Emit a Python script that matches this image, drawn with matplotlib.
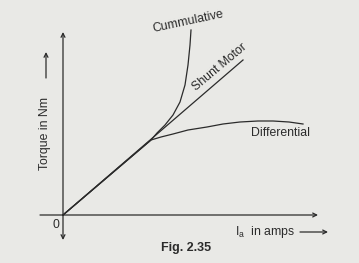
import matplotlib.pyplot as plt

# curve points (origin at the axes crossing, units ~ px)
shunt_x = [0, 180]
shunt_y = [0, 155]

cumul_x = [0, 88, 94, 102, 110, 117, 122, 125, 127, 128]
cumul_y = [0, 75, 82, 90, 100, 113, 130, 150, 170, 185]

diff_x = [0, 88, 98, 110, 125, 144, 160, 177, 195, 210, 226, 240]
diff_y = [0, 75, 78, 81, 85, 88, 91, 93, 94, 94, 93, 91]

labels = ["Cummulative", "Shunt Motor", "Differential"]

ink = "#2b2b2b"
paper = "#e9e9e6"

fig = plt.figure(figsize=(3.59, 2.63), dpi=100, facecolor=paper)
ax = fig.add_axes([0, 0, 1, 1])
ax.set_facecolor(paper)
ax.set_xlim(-63, 296)
ax.set_ylim(-48, 215)
ax.axis("off")

# axes with arrow heads
arr = dict(arrowstyle="->", color=ink, lw=0.9, shrinkA=0, shrinkB=0,
           mutation_scale=7)
ax.annotate("", xy=(0, 183), xytext=(0, 0), arrowprops=arr)
ax.annotate("", xy=(0, -25), xytext=(0, 0), arrowprops=arr)
ax.annotate("", xy=(255, 0), xytext=(-23, 0), arrowprops=arr)

ax.plot(shunt_x, shunt_y, color=ink, lw=0.9)
ax.plot(cumul_x, cumul_y, color=ink, lw=0.9, solid_joinstyle="round")
ax.plot(diff_x, diff_y, color=ink, lw=0.9, solid_joinstyle="round")

font = "Liberation Sans"
fs = 8.8
ax.text(125, 193, labels[0], fontsize=fs, family=font, rotation=12,
        ha="center", va="center", color=ink)
ax.text(157, 148, labels[1], fontsize=fs, family=font, rotation=40,
        ha="center", va="center", color=ink)
ax.text(218, 82, labels[2], fontsize=fs, family=font,
        ha="center", va="center", color=ink)

ax.text(-18, 82, "Torque in Nm", fontsize=fs, family=font, rotation=90,
        ha="center", va="center", color=ink)
ax.annotate("", xy=(-17, 163), xytext=(-17, 137), arrowprops=arr)

ax.text(-7, -10, "0", fontsize=fs, family=font, ha="center", va="center",
        color=ink)
ax.text(202, -17, r"I$_\mathregular{a}$  in amps", fontsize=fs, family=font,
        ha="center", va="center", color=ink)
ax.annotate("", xy=(265, -17), xytext=(237, -17), arrowprops=arr)

ax.text(123, -33, "Fig. 2.35", fontsize=9, family=font, weight="bold",
        ha="center", va="center", color=ink)

fig.savefig("out.png", dpi=100, facecolor=paper)
